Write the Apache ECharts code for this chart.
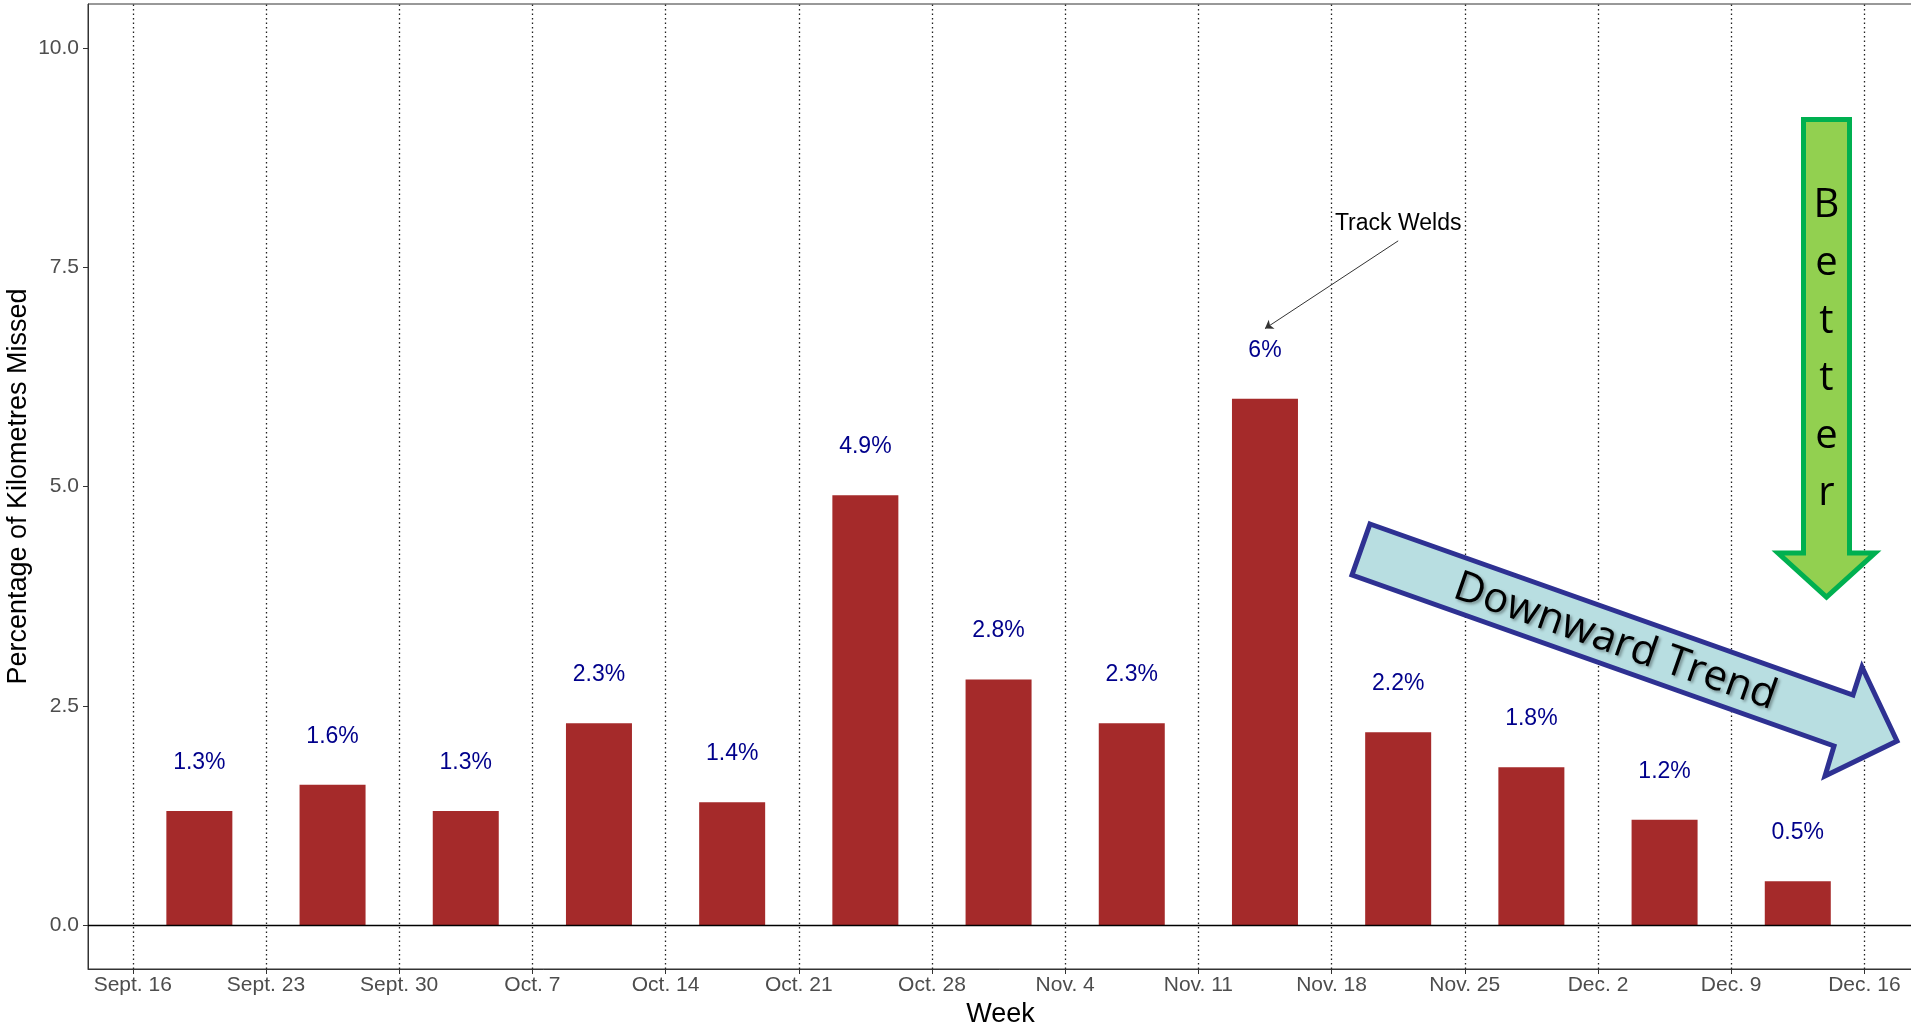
<!DOCTYPE html>
<html>
<head>
<meta charset="utf-8">
<script src="https://cdn.jsdelivr.net/npm/echarts@6/dist/echarts.min.js"></script>
<style>
html,body{margin:0;padding:0;background:#fff;}
#chart{width:1911px;height:1027px;}
</style>
</head>
<body>
<div id="chart"></div>
<script>
// ---- data ----
const weekLabels = ['Sept. 16','Sept. 23','Sept. 30','Oct. 7','Oct. 14','Oct. 21','Oct. 28','Nov. 4','Nov. 11','Nov. 18','Nov. 25','Dec. 2','Dec. 9','Dec. 16'];
const missedPct = [1.3, 1.6, 1.3, 2.3, 1.4, 4.9, 2.8, 2.3, 6, 2.2, 1.8, 1.2, 0.5];
const yTicks = [0, 2.5, 5, 7.5, 10];
const noteText = 'Track Welds';
const notePos = [9.5, 8.0];
const noteArrowFrom = [9.5, 7.8];
const noteArrowTo = [8.5, 6.8];

const FONT = "'Liberation Sans', Arial, sans-serif";
const weekIdx = weekLabels.map((_, i) => i);
const barData = missedPct.map((v, i) => [i + 0.5, v]);

const chart = echarts.init(document.getElementById('chart'), null, {renderer: 'canvas'});

const option = {
  animation: false,
  backgroundColor: '#ffffff',
  grid: {
    left: 88, right: -2, top: 4, bottom: 58,
    containLabel: false, outerBoundsMode: 'none',
    show: true, borderColor: '#333333', borderWidth: 1, backgroundColor: 'transparent'
  },
  xAxis: {
    type: 'value',
    min: -0.336, max: 13.365,
    name: 'Week', nameLocation: 'middle', nameGap: 30,
    nameTextStyle: {fontFamily: FONT, fontSize: 27, color: '#000'},
    axisLine: {show: true, onZero: false, lineStyle: {color: '#333333', width: 1}},
    axisTick: {show: true, length: 5, lineStyle: {color: '#333333'}, customValues: weekIdx},
    axisLabel: {
      customValues: weekIdx,
      formatter: v => weekLabels[Math.round(v)] || '',
      fontFamily: FONT, fontSize: 21, color: '#4d4d4d', margin: 6
    },
    splitLine: {show: false}
  },
  yAxis: {
    type: 'value',
    min: -0.5, max: 10.5,
    name: 'Percentage of Kilometres Missed', nameLocation: 'middle', nameGap: 56,
    nameMoveOverlap: false,
    nameTextStyle: {fontFamily: FONT, fontSize: 27, color: '#000'},
    axisLine: {show: true, onZero: false, lineStyle: {color: '#333333', width: 1}},
    axisTick: {show: true, length: 5, lineStyle: {color: '#333333'}, customValues: yTicks},
    axisLabel: {
      customValues: yTicks,
      formatter: v => Number(v).toFixed(1),
      fontFamily: FONT, fontSize: 21, color: '#4d4d4d', margin: 9
    },
    splitLine: {show: false}
  },
  series: [{
    type: 'bar',
    data: barData,
    barWidth: 66,
    itemStyle: {color: '#A52A2A'},
    label: {
      show: true, position: 'top', distance: 37,
      formatter: p => p.value[1] + '%',
      fontFamily: FONT, fontSize: 23, color: '#00008B'
    },
    markLine: {
      silent: true,
      symbol: ['none', 'none'],
      label: {show: false},
      data: weekIdx.map(w => ({xAxis: w, lineStyle: {type: [1.5, 3], color: '#222222', width: 1.3}}))
        .concat([
          {yAxis: 0, lineStyle: {type: 'solid', color: '#000000', width: 1.3}},
          [
            {coord: noteArrowFrom, symbol: 'none', lineStyle: {type: 'solid', color: '#333333', width: 1}},
            {coord: noteArrowTo, symbol: 'arrow', symbolSize: 8}
          ]
        ])
    },
    markPoint: {
      silent: true,
      data: [{
        coord: notePos, symbol: 'rect', symbolSize: 1,
        itemStyle: {color: 'rgba(0,0,0,0)'},
        label: {show: true, position: 'inside', formatter: noteText, fontFamily: FONT, fontSize: 23, color: '#000'}
      }]
    }
  }],
  graphic: [
    {
      type: 'polygon', z: 100,
      shape: {points: [[1370,524],[1853,695],[1862,667],[1897,741],[1825,776],[1834,746],[1352,575]]},
      style: {fill: '#B8DEE1', stroke: '#2E3192', lineWidth: 5, lineJoin: 'miter'}
    },
    {
      type: 'text', z: 101, x: 1615, y: 642, rotation: -0.3386,
      style: {
        text: 'Downward Trend', fontFamily: "'Open Sans', 'Noto Sans', sans-serif", fontSize: 42,
        fill: '#000', align: 'center', verticalAlign: 'middle',
        textShadowColor: 'rgba(0,0,0,0.35)', textShadowBlur: 3, textShadowOffsetX: 2, textShadowOffsetY: 2
      }
    },
    {
      type: 'polygon', z: 100,
      shape: {points: [[1803.5,119.5],[1849.5,119.5],[1849.5,553],[1875,553],[1826.5,597],[1778,553],[1803.5,553]]},
      style: {fill: '#92D050', stroke: '#00B050', lineWidth: 5, lineJoin: 'miter'}
    },
    {
      type: 'text', z: 101, x: 1826.5, y: 350,
      style: {
        text: 'B\ne\nt\nt\ne\nr', fontFamily: "'Open Sans', 'Noto Sans', sans-serif", fontSize: 40,
        lineHeight: 57.6, fill: '#000', align: 'center', verticalAlign: 'middle'
      }
    }
  ]
};
chart.setOption(option);
</script>
</body>
</html>
